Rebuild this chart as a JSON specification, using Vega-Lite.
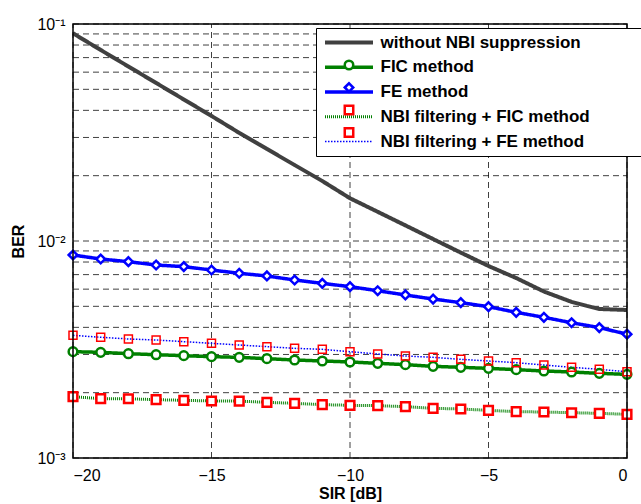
{
  "$schema": "https://vega.github.io/schema/vega-lite/v6.json",
  "width": 554,
  "height": 434,
  "autosize": {"type": "none"},
  "padding": {"left": 73, "top": 24, "right": 14, "bottom": 46},
  "background": "white",
  "config": {
    "font": "Liberation Sans",
    "view": {"stroke": null},
    "axis": {
      "domain": false,
      "grid": false,
      "ticks": false,
      "labelFont": "Liberation Sans",
      "labelFontSize": 16,
      "labelColor": "black",
      "titleFont": "Liberation Sans",
      "titleFontSize": 16,
      "titleFontWeight": "bold",
      "titleColor": "black"
    }
  },
  "data": {
    "values": [
      {"x": -20, "ber": 0.0906, "series": "without NBI suppression"},
      {"x": -19, "ber": 0.0759, "series": "without NBI suppression"},
      {"x": -18, "ber": 0.0637, "series": "without NBI suppression"},
      {"x": -17, "ber": 0.0535, "series": "without NBI suppression"},
      {"x": -16, "ber": 0.0449, "series": "without NBI suppression"},
      {"x": -15, "ber": 0.0377, "series": "without NBI suppression"},
      {"x": -14, "ber": 0.0315, "series": "without NBI suppression"},
      {"x": -13, "ber": 0.02655, "series": "without NBI suppression"},
      {"x": -12, "ber": 0.02239, "series": "without NBI suppression"},
      {"x": -11, "ber": 0.0189, "series": "without NBI suppression"},
      {"x": -10, "ber": 0.01574, "series": "without NBI suppression"},
      {"x": -9, "ber": 0.01363, "series": "without NBI suppression"},
      {"x": -8, "ber": 0.0118, "series": "without NBI suppression"},
      {"x": -7, "ber": 0.01021, "series": "without NBI suppression"},
      {"x": -6, "ber": 0.00884, "series": "without NBI suppression"},
      {"x": -5, "ber": 0.00767, "series": "without NBI suppression"},
      {"x": -4, "ber": 0.00675, "series": "without NBI suppression"},
      {"x": -3, "ber": 0.00585, "series": "without NBI suppression"},
      {"x": -2, "ber": 0.00524, "series": "without NBI suppression"},
      {"x": -1, "ber": 0.00486, "series": "without NBI suppression"},
      {"x": 0, "ber": 0.00481, "series": "without NBI suppression"},

      {"x": -20, "ber": 0.00309, "series": "FIC method"},
      {"x": -19, "ber": 0.003069, "series": "FIC method"},
      {"x": -18, "ber": 0.003025, "series": "FIC method"},
      {"x": -17, "ber": 0.002993, "series": "FIC method"},
      {"x": -16, "ber": 0.002962, "series": "FIC method"},
      {"x": -15, "ber": 0.002931, "series": "FIC method"},
      {"x": -14, "ber": 0.00291, "series": "FIC method"},
      {"x": -13, "ber": 0.002869, "series": "FIC method"},
      {"x": -12, "ber": 0.002829, "series": "FIC method"},
      {"x": -11, "ber": 0.002799, "series": "FIC method"},
      {"x": -10, "ber": 0.00277, "series": "FIC method"},
      {"x": -9, "ber": 0.002731, "series": "FIC method"},
      {"x": -8, "ber": 0.002692, "series": "FIC method"},
      {"x": -7, "ber": 0.002645, "series": "FIC method"},
      {"x": -6, "ber": 0.002617, "series": "FIC method"},
      {"x": -5, "ber": 0.002589, "series": "FIC method"},
      {"x": -4, "ber": 0.002553, "series": "FIC method"},
      {"x": -3, "ber": 0.002517, "series": "FIC method"},
      {"x": -2, "ber": 0.00249, "series": "FIC method"},
      {"x": -1, "ber": 0.002455, "series": "FIC method"},
      {"x": 0, "ber": 0.002429, "series": "FIC method"},

      {"x": -20, "ber": 0.00862, "series": "FE method"},
      {"x": -19, "ber": 0.00826, "series": "FE method"},
      {"x": -18, "ber": 0.00803, "series": "FE method"},
      {"x": -17, "ber": 0.00775, "series": "FE method"},
      {"x": -16, "ber": 0.00762, "series": "FE method"},
      {"x": -15, "ber": 0.00735, "series": "FE method"},
      {"x": -14, "ber": 0.0071, "series": "FE method"},
      {"x": -13, "ber": 0.0069, "series": "FE method"},
      {"x": -12, "ber": 0.00661, "series": "FE method"},
      {"x": -11, "ber": 0.00638, "series": "FE method"},
      {"x": -10, "ber": 0.00616, "series": "FE method"},
      {"x": -9, "ber": 0.0059, "series": "FE method"},
      {"x": -8, "ber": 0.00564, "series": "FE method"},
      {"x": -7, "ber": 0.0054, "series": "FE method"},
      {"x": -6, "ber": 0.0052, "series": "FE method"},
      {"x": -5, "ber": 0.00498, "series": "FE method"},
      {"x": -4, "ber": 0.00469, "series": "FE method"},
      {"x": -3, "ber": 0.00445, "series": "FE method"},
      {"x": -2, "ber": 0.0042, "series": "FE method"},
      {"x": -1, "ber": 0.00399, "series": "FE method"},
      {"x": 0, "ber": 0.00372, "series": "FE method"},

      {"x": -20, "ber": 0.001917, "series": "NBI filtering + FIC method"},
      {"x": -19, "ber": 0.001877, "series": "NBI filtering + FIC method"},
      {"x": -18, "ber": 0.001875, "series": "NBI filtering + FIC method"},
      {"x": -17, "ber": 0.001857, "series": "NBI filtering + FIC method"},
      {"x": -16, "ber": 0.001844, "series": "NBI filtering + FIC method"},
      {"x": -15, "ber": 0.001831, "series": "NBI filtering + FIC method"},
      {"x": -14, "ber": 0.001829, "series": "NBI filtering + FIC method"},
      {"x": -13, "ber": 0.001805, "series": "NBI filtering + FIC method"},
      {"x": -12, "ber": 0.001786, "series": "NBI filtering + FIC method"},
      {"x": -11, "ber": 0.001761, "series": "NBI filtering + FIC method"},
      {"x": -10, "ber": 0.001749, "series": "NBI filtering + FIC method"},
      {"x": -9, "ber": 0.001743, "series": "NBI filtering + FIC method"},
      {"x": -8, "ber": 0.001724, "series": "NBI filtering + FIC method"},
      {"x": -7, "ber": 0.001694, "series": "NBI filtering + FIC method"},
      {"x": -6, "ber": 0.001682, "series": "NBI filtering + FIC method"},
      {"x": -5, "ber": 0.001658, "series": "NBI filtering + FIC method"},
      {"x": -4, "ber": 0.001635, "series": "NBI filtering + FIC method"},
      {"x": -3, "ber": 0.001629, "series": "NBI filtering + FIC method"},
      {"x": -2, "ber": 0.001617, "series": "NBI filtering + FIC method"},
      {"x": -1, "ber": 0.001606, "series": "NBI filtering + FIC method"},
      {"x": 0, "ber": 0.001589, "series": "NBI filtering + FIC method"},

      {"x": -20, "ber": 0.003675, "series": "NBI filtering + FE method"},
      {"x": -19, "ber": 0.0036, "series": "NBI filtering + FE method"},
      {"x": -18, "ber": 0.003536, "series": "NBI filtering + FE method"},
      {"x": -17, "ber": 0.003498, "series": "NBI filtering + FE method"},
      {"x": -16, "ber": 0.003437, "series": "NBI filtering + FE method"},
      {"x": -15, "ber": 0.003377, "series": "NBI filtering + FE method"},
      {"x": -14, "ber": 0.003317, "series": "NBI filtering + FE method"},
      {"x": -13, "ber": 0.003259, "series": "NBI filtering + FE method"},
      {"x": -12, "ber": 0.003202, "series": "NBI filtering + FE method"},
      {"x": -11, "ber": 0.003168, "series": "NBI filtering + FE method"},
      {"x": -10, "ber": 0.00309, "series": "NBI filtering + FE method"},
      {"x": -9, "ber": 0.003015, "series": "NBI filtering + FE method"},
      {"x": -8, "ber": 0.002951, "series": "NBI filtering + FE method"},
      {"x": -7, "ber": 0.00291, "series": "NBI filtering + FE method"},
      {"x": -6, "ber": 0.002849, "series": "NBI filtering + FE method"},
      {"x": -5, "ber": 0.002799, "series": "NBI filtering + FE method"},
      {"x": -4, "ber": 0.00275, "series": "NBI filtering + FE method"},
      {"x": -3, "ber": 0.002683, "series": "NBI filtering + FE method"},
      {"x": -2, "ber": 0.002617, "series": "NBI filtering + FE method"},
      {"x": -1, "ber": 0.002562, "series": "NBI filtering + FE method"},
      {"x": 0, "ber": 0.0025, "series": "NBI filtering + FE method"}
    ]
  },
  "layer": [
    {
      "data": {"values": [
        {"v": 0.001}, {"v": 0.002}, {"v": 0.003}, {"v": 0.004}, {"v": 0.005}, {"v": 0.006}, {"v": 0.007}, {"v": 0.008}, {"v": 0.009},
        {"v": 0.01}, {"v": 0.02}, {"v": 0.03}, {"v": 0.04}, {"v": 0.05}, {"v": 0.06}, {"v": 0.07}, {"v": 0.08}, {"v": 0.09}, {"v": 0.1}
      ]},
      "mark": {"type": "rule", "color": "black", "opacity": 0.75, "strokeWidth": 1, "strokeDash": [6, 4]},
      "encoding": {
        "y": {"field": "v", "type": "quantitative"},
        "x": {"datum": -20, "type": "quantitative"},
        "x2": {"datum": 0}
      }
    },
    {
      "data": {"values": [{"v": -20}, {"v": -15}, {"v": -10}, {"v": -5}, {"v": 0}]},
      "mark": {"type": "rule", "color": "black", "opacity": 0.75, "strokeWidth": 1, "strokeDash": [6, 4]},
      "encoding": {
        "x": {"field": "v", "type": "quantitative"},
        "y": {"datum": 0.001, "type": "quantitative"},
        "y2": {"datum": 0.1}
      }
    },
    {
      "mark": {"type": "line"},
      "encoding": {
        "x": {
          "field": "x", "type": "quantitative",
          "scale": {"domain": [-20, 0], "nice": false, "zero": false},
          "axis": {"values": [-20, -15, -10, -5, 0], "title": "SIR [dB]", "labelPadding": 9, "titlePadding": 2}
        },
        "y": {
          "field": "ber", "type": "quantitative",
          "scale": {"type": "log", "domain": [0.001, 0.1], "nice": false},
          "axis": {
            "values": [0.001, 0.01, 0.1],
            "labelExpr": "datum.value == 0.1 ? '10⁻¹' : (datum.value == 0.01 ? '10⁻²' : '10⁻³')",
            "title": "BER", "labelPadding": 8, "titlePadding": 10
          }
        },
        "color": {
          "field": "series", "type": "nominal",
          "scale": {
            "domain": ["without NBI suppression", "FIC method", "FE method", "NBI filtering + FIC method", "NBI filtering + FE method"],
            "range": ["#404040", "#008000", "#0000ff", "#008000", "#0000ff"]
          },
          "legend": {
            "title": null, "orient": "none", "legendX": 243, "legendY": 4,
            "symbolType": "M-4,0H4", "symbolSize": 144, "symbolOffset": 18.5,
            "labelFontSize": 17, "labelFontWeight": "bold", "labelColor": "black", "labelFont": "Liberation Sans",
            "labelLimit": 0, "labelOffset": 23, "padding": 6, "rowPadding": 6.75,
            "fillColor": "white", "strokeColor": "black",
            "labelExpr": "datum.label + '\u2800\u2800\u2800\u2800\u2800\u2800\u2800'"
          }
        },
        "strokeDash": {
          "field": "series", "type": "nominal",
          "scale": {
            "domain": ["without NBI suppression", "FIC method", "FE method", "NBI filtering + FIC method", "NBI filtering + FE method"],
            "range": [[1, 0], [1, 0], [1, 0], [1, 1], [1.5, 1.5]]
          }
        },
        "strokeWidth": {
          "field": "series", "type": "nominal",
          "scale": {
            "type": "ordinal",
            "domain": ["without NBI suppression", "FIC method", "FE method", "NBI filtering + FIC method", "NBI filtering + FE method"],
            "range": [4, 3.5, 3.5, 3, 1.5]
          }
        }
      }
    },
    {
      "transform": [{"filter": "datum.series != 'NBI filtering + FE method' && datum.series != 'without NBI suppression'"}],
      "mark": {"type": "point", "strokeWidth": 2.5, "size": 75, "opacity": 1},
      "encoding": {
        "x": {"field": "x", "type": "quantitative"},
        "y": {"field": "ber", "type": "quantitative"},
        "shape": {
          "field": "series", "type": "nominal",
          "scale": {
            "domain": ["NBI filtering + FE method", "NBI filtering + FIC method", "FE method", "FIC method", "without NBI suppression"],
            "range": ["square", "square", "diamond", "circle", "circle"]
          },
          "legend": {
            "title": null, "orient": "none", "legendX": 243, "legendY": 4,
            "values": ["without NBI suppression", "FIC method", "FE method", "NBI filtering + FIC method", "NBI filtering + FE method"],
            "symbolStrokeWidth": 2.5, "symbolSize": 72, "symbolOffset": 18.5,
            "labelFontSize": 17, "labelFontWeight": "bold", "labelFont": "Liberation Sans",
            "labelExpr": "''",
            "padding": 6, "rowPadding": 3.5
          }
        },
        "stroke": {
          "field": "series", "type": "nominal",
          "scale": {
            "domain": ["NBI filtering + FE method", "NBI filtering + FIC method", "FE method", "FIC method", "without NBI suppression"],
            "range": ["#ff0000", "#ff0000", "#0000ff", "#008000", "transparent"]
          }
        },
        "fill": {
          "field": "series", "type": "nominal",
          "scale": {
            "domain": ["NBI filtering + FE method", "NBI filtering + FIC method", "FE method", "FIC method", "without NBI suppression"],
            "range": ["transparent", "white", "white", "white", "transparent"]
          }
        }
      }
    },
    {
      "transform": [{"filter": "datum.series == 'NBI filtering + FE method'"}],
      "mark": {"type": "point", "strokeWidth": 1.5, "size": 64, "opacity": 1},
      "encoding": {
        "x": {"field": "x", "type": "quantitative"},
        "y": {"field": "ber", "type": "quantitative"},
        "shape": {"field": "series", "type": "nominal"},
        "stroke": {"field": "series", "type": "nominal"},
        "fill": {"field": "series", "type": "nominal"}
      }
    },
    {
      "data": {"values": [{"frame": 1}]},
      "mark": {"type": "rect", "fill": "transparent", "stroke": "black", "strokeWidth": 1.5},
      "encoding": {
        "x": {"datum": -20, "type": "quantitative"},
        "x2": {"datum": 0},
        "y": {"datum": 0.001, "type": "quantitative"},
        "y2": {"datum": 0.1}
      }
    }
  ]
}
